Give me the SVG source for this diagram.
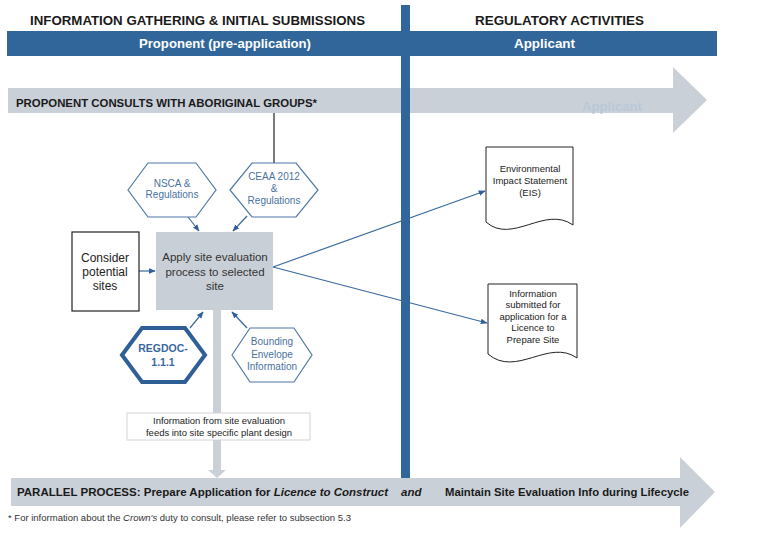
<svg xmlns="http://www.w3.org/2000/svg" width="774" height="560" viewBox="0 0 774 560">
<defs>
<style>
text{font-family:"Liberation Sans",Arial,sans-serif;}
.hdr{font-size:13px;font-weight:bold;fill:#1a1a1a;}
.bar{font-size:13px;font-weight:bold;fill:#ffffff;}
.hex{fill:#ffffff;stroke:#4f79a8;stroke-width:1.2;}
.hext{font-size:10px;fill:#4a72a0;text-anchor:middle;}
.doc{fill:#ffffff;stroke:#222;stroke-width:1;}
.doct{font-size:9.5px;fill:#222;text-anchor:middle;}
.conn{stroke:#3a6a9e;stroke-width:1.2;fill:none;marker-end:url(#ah);}
.garrow{fill:#c9d0d8;}
</style>
<marker id="ah" viewBox="0 0 10 10" refX="9" refY="5" markerWidth="7" markerHeight="7" orient="auto" markerUnits="userSpaceOnUse">
<path d="M0,1 L10,5 L0,9 Z" fill="#2e5f96"/>
</marker>
</defs>
<rect width="774" height="560" fill="#ffffff"/>

<g id="headers">
<text class="hdr" x="30" y="25" textLength="335" lengthAdjust="spacingAndGlyphs">INFORMATION GATHERING &amp; INITIAL SUBMISSIONS</text>
<text class="hdr" x="475" y="25" textLength="169" lengthAdjust="spacingAndGlyphs">REGULATORY ACTIVITIES</text>
</g>

<g id="phase-bar">
<rect x="7" y="31" width="710" height="25" fill="#31669b"/>
<text class="bar" x="139" y="48" textLength="172" lengthAdjust="spacingAndGlyphs">Proponent (pre-application)</text>
<text class="bar" x="514" y="48" textLength="61" lengthAdjust="spacingAndGlyphs">Applicant</text>
</g>

<g id="consult-arrow">
<path class="garrow" d="M8,88 H673 V67 L707,100 L673,133 V113 H8 Z"/>
<text x="16" y="107" font-size="11" font-weight="bold" fill="#1a1a1a" textLength="301" lengthAdjust="spacingAndGlyphs">PROPONENT CONSULTS WITH ABORIGINAL GROUPS*</text>
<text x="582" y="111" font-size="12" font-weight="bold" fill="#b9c8d8" textLength="60" lengthAdjust="spacingAndGlyphs">Applicant</text>
</g>

<g id="parallel-arrow">
<path class="garrow" d="M11,478 H680 V457 L715,492 L680,528 V506 H11 Z"/>
<text x="17" y="496" font-size="11.5" font-weight="bold" fill="#1a1a1a"><tspan>PARALLEL PROCESS: Prepare Application for </tspan><tspan font-style="italic">Licence to Construct</tspan></text>
<text x="401" y="496" font-size="11.5" font-weight="bold" font-style="italic" fill="#1a1a1a">and</text>
<text x="445" y="496" font-size="11.5" font-weight="bold" fill="#1a1a1a" textLength="244" lengthAdjust="spacingAndGlyphs">Maintain Site Evaluation Info during Lifecycle</text>
</g>

<g id="footnote">
<text x="8" y="521" font-size="9" fill="#333" textLength="343" lengthAdjust="spacingAndGlyphs">* For information about the <tspan font-style="italic">Crown's</tspan> duty to consult, please refer to subsection 5.3</text>
</g>

<g id="divider">
<rect x="401" y="5" width="9" height="473" fill="#31669b"/>
</g>

<g id="connectors">
<line x1="274" y1="113" x2="274" y2="163" stroke="#222" stroke-width="1.2"/>
<path class="garrow" d="M213,310 H221 V470 H226 L217,478 L208,470 H213 Z"/>
<line class="conn" x1="188" y1="217" x2="199" y2="231"/>
<line class="conn" x1="247" y1="216" x2="233" y2="231"/>
<line class="conn" x1="137" y1="271" x2="155" y2="271"/>
<line class="conn" x1="190" y1="328" x2="203" y2="312"/>
<line class="conn" x1="247" y1="328" x2="232" y2="312"/>
<line class="conn" x1="273" y1="267" x2="485" y2="191"/>
<line class="conn" x1="273" y1="267" x2="487" y2="323"/>
</g>

<g id="node-nsca">
<polygon class="hex" points="128,190 148,163 196,163 216,190 196,217 148,217"/>
<text class="hext" x="172" y="187">NSCA &amp;</text>
<text class="hext" x="172" y="198">Regulations</text>
</g>

<g id="node-ceaa">
<polygon class="hex" points="230,190 252,163 296,163 318,190 296,217 252,217"/>
<text class="hext" x="274" y="180">CEAA 2012</text>
<text class="hext" x="274" y="192">&amp;</text>
<text class="hext" x="274" y="204">Regulations</text>
</g>

<g id="node-consider">
<rect x="72" y="232" width="67" height="79" fill="#ffffff" stroke="#222" stroke-width="1.2"/>
<text x="105" y="262" font-size="12" fill="#222" text-anchor="middle">Consider</text>
<text x="105" y="276" font-size="12" fill="#222" text-anchor="middle">potential</text>
<text x="105" y="290" font-size="12" fill="#222" text-anchor="middle">sites</text>
</g>

<g id="node-apply">
<rect x="156" y="232" width="117" height="78" fill="#c9cfd6"/>
<text x="215" y="261" font-size="11.5" fill="#333" text-anchor="middle">Apply site evaluation</text>
<text x="215" y="276" font-size="11.5" fill="#333" text-anchor="middle">process to selected</text>
<text x="215" y="290" font-size="11.5" fill="#333" text-anchor="middle">site</text>
</g>

<g id="node-regdoc">
<polygon points="122,355 142,328 185,328 205,355 185,382 142,382" fill="#ffffff" stroke="#2e5f96" stroke-width="4"/>
<text x="163" y="352" font-size="10.5" font-weight="bold" fill="#3a67a0" text-anchor="middle">REGDOC-</text>
<text x="163" y="366" font-size="10.5" font-weight="bold" fill="#3a67a0" text-anchor="middle">1.1.1</text>
</g>

<g id="node-bounding">
<polygon class="hex" points="232,355 250,328 294,328 312,355 294,382 250,382"/>
<text class="hext" x="272" y="345">Bounding</text>
<text class="hext" x="272" y="358">Envelope</text>
<text class="hext" x="272" y="370">Information</text>
</g>

<g id="node-info-box">
<rect x="127" y="413" width="183" height="27" fill="#ffffff" stroke="#cfd3d8" stroke-width="1"/>
<text x="219" y="424" font-size="9" fill="#222" text-anchor="middle" textLength="132" lengthAdjust="spacingAndGlyphs">Information from site evaluation</text>
<text x="219" y="436" font-size="9" fill="#222" text-anchor="middle" textLength="146" lengthAdjust="spacingAndGlyphs">feeds into site specific plant design</text>
</g>

<g id="node-eis">
<path class="doc" d="M486,147 H573 V225 C545,205 512,245 486,222 Z"/>
<text class="doct" x="530" y="172">Environmental</text>
<text class="doct" x="530" y="184">Impact Statement</text>
<text class="doct" x="530" y="196">(EIS)</text>
</g>

<g id="node-licence">
<path class="doc" d="M488,284 H577 V358 C549,338 516,378 488,354 Z"/>
<text class="doct" x="533" y="297">Information</text>
<text class="doct" x="533" y="308">submitted for</text>
<text class="doct" x="533" y="320">application for a</text>
<text class="doct" x="533" y="331">Licence to</text>
<text class="doct" x="533" y="343">Prepare Site</text>
</g>
</svg>
